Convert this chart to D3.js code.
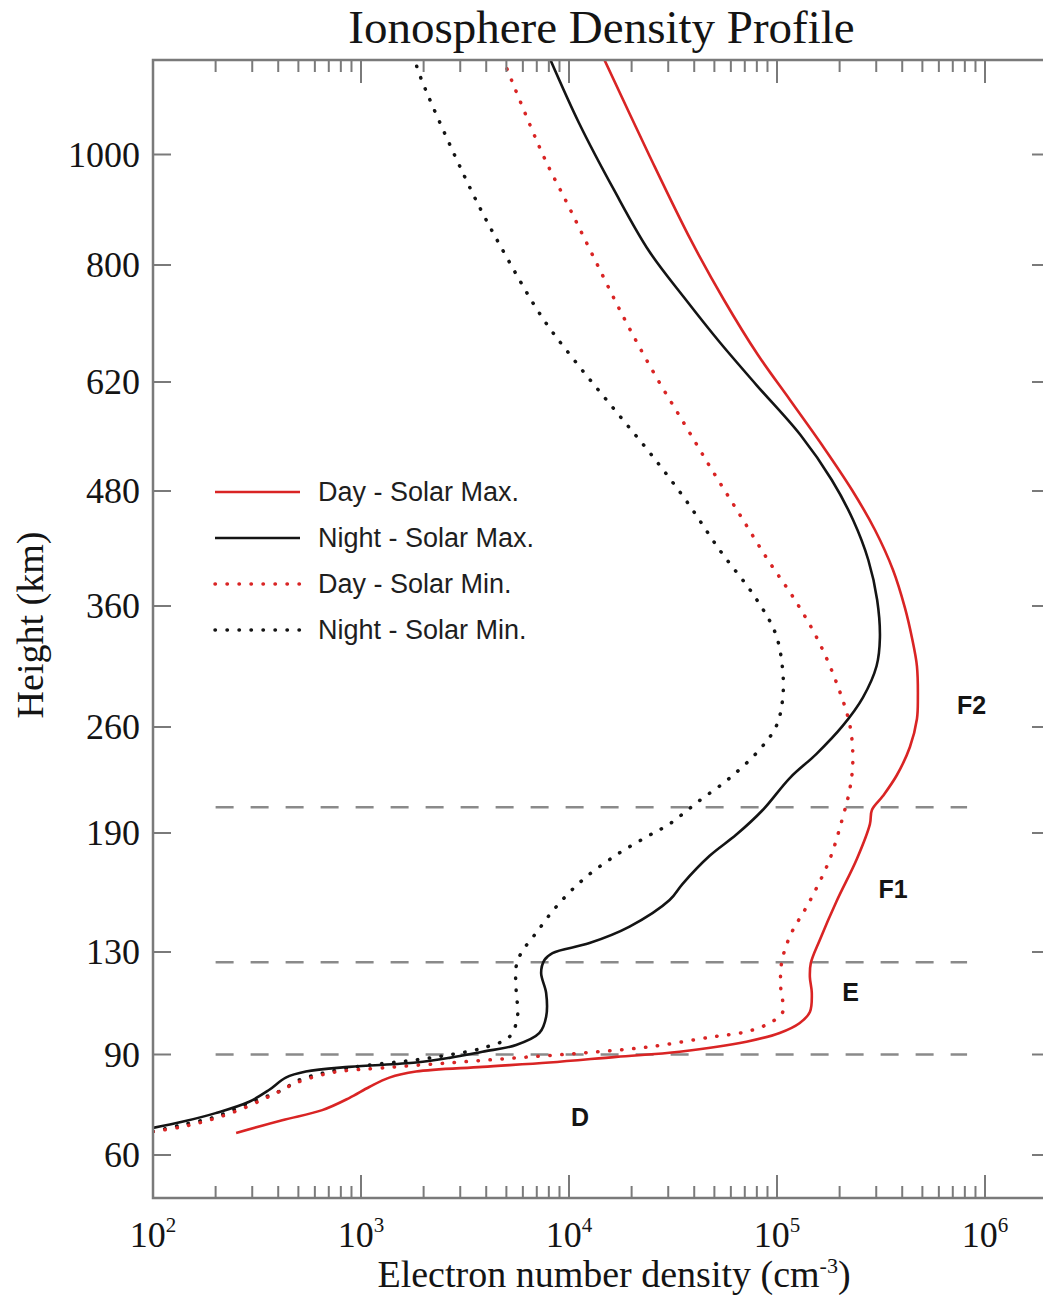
<!DOCTYPE html>
<html>
<head>
<meta charset="utf-8">
<script src="https://cdn.jsdelivr.net/npm/d3@7"></script>
<style>
  body { margin: 0; background: #fff; }
  svg { display: block; }
</style>
</head>
<body>
<svg id="chart" width="1043" height="1295"></svg>
<script>
// Electron density profiles, each point is [density (cm^-3), height (km)]
const daySolarMax = [
  [251, 66.6], [418, 70.4], [651, 73.4], [877, 77.0], [1096, 80.3], [1368, 83.1],
  [1839, 84.9], [3833, 86.3], [8053, 87.6], [16870, 89.3], [34000, 91.1],
  [71300, 95.0], [103000, 98.4], [128700, 102.3], [143900, 106.6], [147000, 114.0],
  [143900, 120.2], [145400, 125.7], [160600, 136.1], [193600, 155.7], [242000, 176.9],
  [279700, 195.9], [286000, 205.2], [322800, 214.4], [377200, 228.3], [435500, 246.8],
  [470700, 266.6], [475600, 284], [470700, 310.4], [445700, 333.6], [412500, 358.3],
  [361200, 397.6], [295900, 439.3], [229400, 481.3], [164600, 539.1], [115500, 596.9],
  [81040, 661.5], [55620, 746.2], [38500, 845.3], [24400, 997.3], [14730, 1173]
];
const nightSolarMax = [
  [100, 68.1], [138, 69.9], [200, 72.5], [290, 75.9], [361, 79.4], [435, 83.1],
  [543, 84.9], [878, 86.3], [1839, 87.6], [2659, 89.0], [3833, 91.1], [5570, 93.7],
  [7211, 98.4], [7765, 104.7], [7765, 114.0], [7345, 121.8], [7620, 126.9],
  [8330, 129.6], [12550, 134.5], [19550, 142.8], [30460, 156.2], [35180, 164.4],
  [47450, 178.5], [63800, 189.2], [85400, 205.2], [115200, 226.3], [154900, 242.3],
  [207300, 261.1], [258700, 284.3], [301100, 310.4], [312400, 333.7], [303100, 366.3],
  [274800, 408], [232200, 449.7], [183400, 494.1], [129700, 551.9], [79690, 616.1],
  [52940, 681.5], [35920, 749.2], [24250, 825.3], [16460, 935.8], [11170, 1057],
  [8105, 1173]
];
const daySolarMin = [
  [100, 67.0], [138, 68.4], [186, 70.4], [259, 73.4], [349, 77.0], [418, 79.4],
  [486, 81.5], [727, 84.6], [1266, 86.0], [2659, 87.5], [5570, 89.0], [11620, 90.6],
  [24400, 93.0], [49080, 96.9], [71300, 98.9], [92300, 102.3], [106600, 106.6],
  [104300, 115.6], [105000, 125.3], [115200, 137.8], [143800, 155.7], [179500, 176.9],
  [207300, 200.6], [224000, 219.1], [231500, 237.7], [224400, 260.8], [194300, 295.5],
  [157400, 331.9], [122000, 366.3], [90500, 408], [66400, 455], [48700, 507],
  [36120, 564.8], [25920, 630.8], [18590, 715.4], [13340, 809], [9890, 908.6],
  [7500, 999], [4816, 1172.9]
];
const nightSolarMin = [
  [100, 67.0], [138, 69.0], [200, 71.4], [290, 75.5], [418, 79.4], [505, 82.4],
  [878, 86.0], [1839, 88.4], [2659, 89.9], [3833, 92.5], [5170, 96.9], [5650, 104.7],
  [5570, 115.2], [5570, 124.3], [5890, 129.6], [6950, 139.6], [8680, 152.8],
  [11620, 166.3], [16870, 178.9], [24400, 188.9], [30460, 196], [40930, 209.8],
  [59250, 226.3], [82600, 245.2], [99400, 261.1], [106600, 284.3], [106000, 310.4],
  [98000, 338], [78000, 370], [53000, 418.4], [36650, 469.7], [24650, 528],
  [16560, 584.4], [11140, 644.9], [7490, 717.7], [5030, 813.2], [3382, 935.6],
  [1866, 1155.7], [1826, 1172.8]
];

const seriesNames = ["Day - Solar Max.", "Night - Solar Max.", "Day - Solar Min.", "Night - Solar Min."];
const heightTicks = [60, 90, 130, 190, 260, 360, 480, 620, 800, 1000];
const densityDecades = [2, 3, 4, 5, 6];
const layerBoundaries = [90, 126, 207];        // km
const layerNames = ["D", "E", "F1", "F2"];
const layerDensity = [11300, 225700, 361900, 863000];
const layerHeight = [71.4, 114.3, 161.8, 278.5];

// ---- layout ----
const svg = d3.select("#chart");
const frame = { left: 153, right: 1050, top: 60, bottom: 1198 };
const axisColor = "#7a7a7a";
const red = "#d92424";
const ink = "#141414";

svg.append("rect").attr("width", 1043).attr("height", 1295).attr("fill", "#fff");

const x = d3.scaleLog().domain([1e2, 1e6]).range([153, 985]);
// The height axis is stretched unevenly: each labelled height gets its own slot.
const y = d3.scaleLinear()
  .domain(heightTicks)
  .range([1155, 1054.5, 952, 833, 727, 606, 491, 382, 265, 154.5]);

const series = [
  { name: seriesNames[0], values: daySolarMax, color: red, dotted: false },
  { name: seriesNames[1], values: nightSolarMax, color: ink, dotted: false },
  { name: seriesNames[2], values: daySolarMin, color: red, dotted: true },
  { name: seriesNames[3], values: nightSolarMin, color: ink, dotted: true }
];

function styleStroke(sel, s) {
  sel.attr("fill", "none")
    .attr("stroke", s.color)
    .attr("stroke-width", s.dotted ? 3.5 : 2.6)
    .attr("stroke-linecap", s.dotted ? "round" : "butt")
    .attr("stroke-dasharray", s.dotted ? "0.4 11.6" : null);
}

// clip region for the profiles
svg.append("clipPath").attr("id", "plot-clip")
  .append("rect")
  .attr("x", frame.left).attr("y", frame.top)
  .attr("width", frame.right - frame.left)
  .attr("height", frame.bottom - frame.top);

// layer boundary lines
svg.append("g").selectAll("line")
  .data(layerBoundaries)
  .join("line")
  .attr("x1", x(200)).attr("x2", x(8.2e5))
  .attr("y1", d => y(d)).attr("y2", d => y(d))
  .attr("stroke", "#8a8a8a")
  .attr("stroke-width", 2.4)
  .attr("stroke-dasharray", "18 17");

// profiles
const line = d3.line()
  .x(d => x(d[0]))
  .y(d => y(d[1]))
  .curve(d3.curveCatmullRom.alpha(0.5));

const plotG = svg.append("g").attr("clip-path", "url(#plot-clip)");
plotG.selectAll("path")
  .data([series[3], series[2], series[1], series[0]])
  .join("path")
  .attr("d", d => line(d.values))
  .each(function (d) { styleStroke(d3.select(this), d); });

// frame
svg.append("rect")
  .attr("x", frame.left).attr("y", frame.top)
  .attr("width", frame.right - frame.left)
  .attr("height", frame.bottom - frame.top)
  .attr("fill", "none")
  .attr("stroke", axisColor)
  .attr("stroke-width", 2.5);

// density ticks (major + minor) on bottom and top edges
const densityTicks = [];
densityDecades.forEach(k => {
  const top = k === densityDecades[densityDecades.length - 1] ? 1 : 9;
  for (let m = 1; m <= top; m++) densityTicks.push({ v: m * Math.pow(10, k), major: m === 1 });
});
const tickG = svg.append("g").attr("stroke", axisColor).attr("stroke-width", 2);
tickG.selectAll(".xb")
  .data(densityTicks)
  .join("line")
  .attr("x1", d => x(d.v)).attr("x2", d => x(d.v))
  .attr("y1", frame.bottom).attr("y2", d => frame.bottom - (d.major ? 23 : 12));
tickG.selectAll(".xt")
  .data(densityTicks)
  .join("line")
  .attr("x1", d => x(d.v)).attr("x2", d => x(d.v))
  .attr("y1", frame.top).attr("y2", d => frame.top + (d.major ? 23 : 12));

// height ticks on left and right edges
tickG.selectAll(".yl")
  .data(heightTicks)
  .join("line")
  .attr("x1", frame.left).attr("x2", frame.left + 18)
  .attr("y1", d => y(d)).attr("y2", d => y(d));
tickG.selectAll(".yr")
  .data(heightTicks)
  .join("line")
  .attr("x1", frame.right).attr("x2", frame.right - 18)
  .attr("y1", d => y(d)).attr("y2", d => y(d));

const serif = "'Liberation Serif', 'Times New Roman', serif";
const sans = "'Liberation Sans', Arial, Helvetica, sans-serif";

// height labels
svg.append("g").selectAll("text")
  .data(heightTicks)
  .join("text")
  .attr("x", frame.left - 13)
  .attr("y", d => y(d))
  .attr("text-anchor", "end")
  .attr("dominant-baseline", "central")
  .attr("font-family", serif)
  .attr("font-size", 36)
  .attr("fill", ink)
  .text(d => d);

// density labels 10^k
const xl = svg.append("g").selectAll("text")
  .data(densityDecades)
  .join("text")
  .attr("x", d => x(Math.pow(10, d)))
  .attr("y", 1247)
  .attr("text-anchor", "middle")
  .attr("font-family", serif)
  .attr("font-size", 36)
  .attr("fill", ink);
xl.append("tspan").text("10");
xl.append("tspan").attr("dy", -15).attr("font-size", 21).text(d => d);

// title and axis titles
svg.append("text")
  .attr("x", (frame.left + frame.right) / 2).attr("y", 43)
  .attr("text-anchor", "middle")
  .attr("font-family", serif).attr("font-size", 47)
  .attr("fill", ink)
  .text("Ionosphere Density Profile");

const xt = svg.append("text")
  .attr("x", 614).attr("y", 1287)
  .attr("text-anchor", "middle")
  .attr("font-family", serif).attr("font-size", 38)
  .attr("fill", ink);
xt.append("tspan").text("Electron number density (cm");
xt.append("tspan").attr("dy", -14).attr("font-size", 22).text("-3");
xt.append("tspan").attr("dy", 14).text(")");

svg.append("text")
  .attr("transform", "translate(43,625) rotate(-90)")
  .attr("text-anchor", "middle")
  .attr("font-family", serif).attr("font-size", 38)
  .attr("fill", ink)
  .text("Height (km)");

// legend
const legend = svg.append("g").selectAll("g")
  .data(series)
  .join("g")
  .attr("transform", (d, i) => `translate(215, ${492 + i * 46})`);
legend.append("line")
  .attr("x1", 0).attr("x2", 85)
  .attr("y1", 0).attr("y2", 0)
  .each(function (d) { styleStroke(d3.select(this), d); });
legend.append("text")
  .attr("x", 103).attr("y", 0)
  .attr("dominant-baseline", "central")
  .attr("font-family", sans).attr("font-size", 27)
  .attr("fill", "#1e1e1e")
  .text(d => d.name);

// layer names
svg.append("g").selectAll("text")
  .data(layerNames)
  .join("text")
  .attr("x", (d, i) => x(layerDensity[i]))
  .attr("y", (d, i) => y(layerHeight[i]))
  .attr("text-anchor", "middle")
  .attr("dominant-baseline", "central")
  .attr("font-family", sans).attr("font-weight", "bold").attr("font-size", 25)
  .attr("fill", ink)
  .text(d => d);
</script>
</body>
</html>
